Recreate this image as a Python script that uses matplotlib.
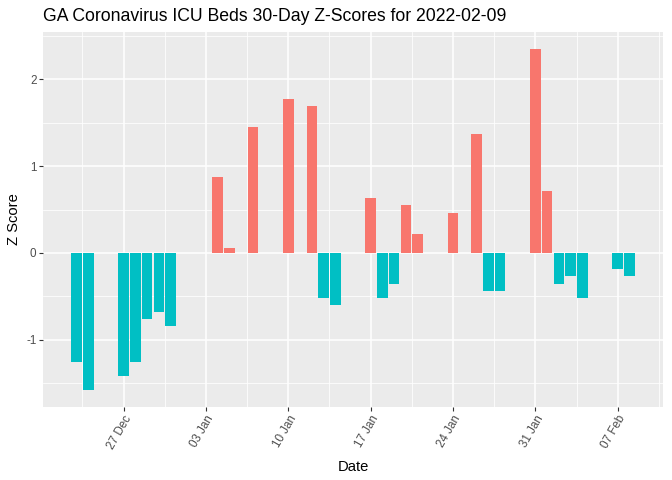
import matplotlib
matplotlib.use('Agg')
from matplotlib import pyplot as plt
import matplotlib.dates as mdates
import numpy as np
import pandas as pd

plt.rcParams['font.family'] = ['Liberation Sans', 'DejaVu Sans']
plt.rcParams['axes.unicode_minus'] = False

# daily ICU bed z-scores
dates = ['2021-12-23', '2021-12-24', '2021-12-27', '2021-12-28', '2021-12-29',
         '2021-12-30', '2021-12-31', '2022-01-04', '2022-01-05', '2022-01-07',
         '2022-01-10', '2022-01-12', '2022-01-13', '2022-01-14', '2022-01-17',
         '2022-01-18', '2022-01-19', '2022-01-20', '2022-01-21', '2022-01-24',
         '2022-01-26', '2022-01-27', '2022-01-28', '2022-01-31', '2022-02-01',
         '2022-02-02', '2022-02-03', '2022-02-04', '2022-02-07', '2022-02-08']
zscores = [-1.255, -1.578, -1.417, -1.255, -0.760,
           -0.679, -0.841, 0.875, 0.058, 1.451,
           1.774, 1.693, -0.518, -0.599, 0.633,
           -0.518, -0.357, 0.553, 0.219, 0.461,
           1.370, -0.438, -0.438, 2.349, 0.714,
           -0.357, -0.265, -0.518, -0.184, -0.265]
tick_dates = ['2021-12-27', '2022-01-03', '2022-01-10', '2022-01-17',
              '2022-01-24', '2022-01-31', '2022-02-07']

x = mdates.date2num(pd.to_datetime(dates))
z = np.array(zscores)
colors = np.where(z > 0, '#F8766D', '#00BFC4')

fig = plt.figure(figsize=(6.72, 4.8), dpi=100)
fig.subplots_adjust(left=43/672, right=663/672, top=1-32/480, bottom=1-407/480)
ax = fig.add_subplot(111)
ax.set_facecolor('#EBEBEB')

ax.bar(x, z, width=0.9, color=colors, zorder=3)
ax.use_sticky_edges = False
ax.margins(x=0.05, y=0.05)

ticks = mdates.date2num(pd.to_datetime(tick_dates))
ax.set_xticks(ticks)
ax.set_xticks(np.concatenate([ticks - 3.5, [ticks[-1] + 3.5]]), minor=True)
ax.xaxis.set_major_formatter(mdates.DateFormatter('%d %b'))
ax.set_yticks([-1, 0, 1, 2])
ax.set_yticks([-1.5, -0.5, 0.5, 1.5, 2.5], minor=True)

ax.grid(which='major', color='white', linewidth=1.1, zorder=0)
ax.grid(which='minor', color='white', linewidth=0.55, zorder=0)
ax.set_axisbelow(True)
for s in ax.spines.values():
    s.set_visible(False)

ax.tick_params(which='major', length=2.7, width=0.8, color='#333333',
               labelsize=8.4, labelcolor='#4D4D4D', pad=2)
ax.tick_params(which='minor', length=0)
plt.setp(ax.get_xticklabels(), rotation=60, ha='right', rotation_mode='anchor')

ax.set_xlabel('Date', fontsize=10.6, labelpad=6)
ax.set_ylabel('Z Score', fontsize=10.6, labelpad=4)
ax.set_title('GA Coronavirus ICU Beds 30-Day Z-Scores for 2022-02-09',
             fontsize=12.7, loc='left', pad=8)

fig.savefig('out.png', dpi=100)
